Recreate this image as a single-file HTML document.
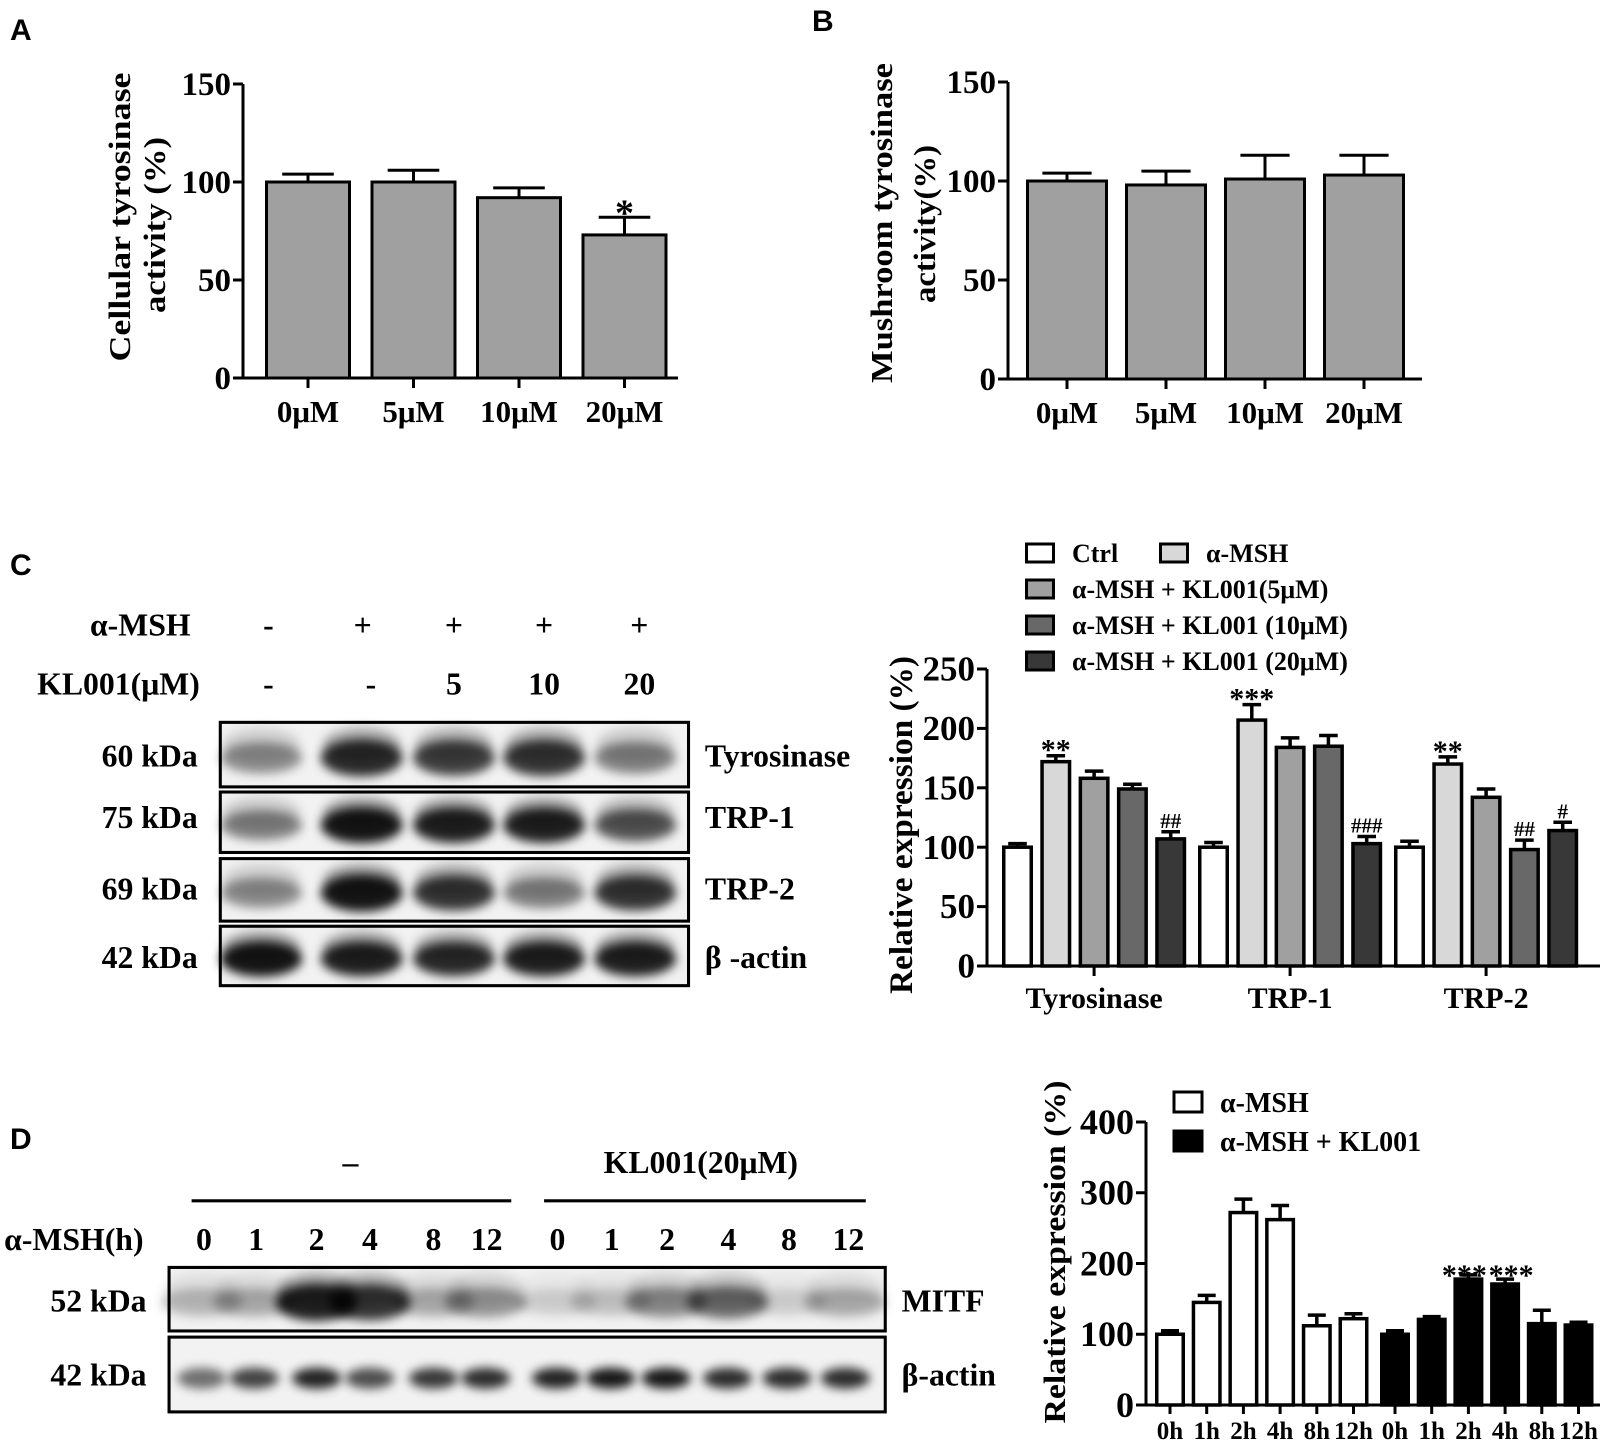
<!DOCTYPE html>
<html><head><meta charset="utf-8"><style>
body{margin:0;background:#fff}
svg{display:block}
text{font-family:"Liberation Serif",serif;font-weight:bold;fill:#000}
.pl{font-family:"Liberation Sans",sans-serif;font-size:30px}
</style></head><body>
<svg id="fig" width="1606" height="1446" viewBox="0 0 1606 1446">
<defs>
<filter id="blur" x="-50%" y="-100%" width="200%" height="300%"><feGaussianBlur stdDeviation="5"/></filter>
</defs>
<text class="pl" x="10" y="40">A</text>
<text class="pl" x="812" y="31">B</text>
<text class="pl" x="10" y="575">C</text>
<text class="pl" x="10" y="1149">D</text>
<g id="root"></g>
<g id="blots" transform="scale(1.0246)"></g>
</svg>
<script>
// Panel A data
const aCats=["0μM","5μM","10μM","20μM"];
const aVals=[100,100,92,73];
const aErr=[104,106,97,82];
const aTicks=[0,50,100,150];
// Panel B data
const bCats=["0μM","5μM","10μM","20μM"];
const bVals=[100,98,101,103];
const bErr=[104,105,113,113];
// Panel C data
const cGroups=["Tyrosinase","TRP-1","TRP-2"];
const cSeries=["Ctrl","α-MSH","α-MSH + KL001(5μM)","α-MSH + KL001 (10μM)","α-MSH + KL001 (20μM)"];
const cTyr=[100,172,158,149,107];
const cTyrErr=[103,177,164,153,113];
const cTrp1=[100,207,184,185,103];
const cTrp1Err=[104,220,192,194,109];
const cTrp2=[100,170,142,98,114];
const cTrp2Err=[105,176,149,106,121];
const cMarks=[["","**","","","##"],["","***","","","###"],["","**","","##","#"]];
const cTicks=[0,50,100,150,200,250];
// Panel D data
const dCats=["0h","1h","2h","4h","8h","12h"];
const dMsh=[100,145,272,262,112,122];
const dMshErr=[105,155,291,282,127,129];
const dKl=[100,121,178,171,115,113];
const dKlErr=[105,125,184,178,134,117];
const dMarks=["","","***","***","",""];
const dTicks=[0,100,200,300,400];
// Blot band intensities (0..1)
const blotTyr=[0.45,0.9,0.8,0.85,0.5];
const blotTrp1=[0.5,1,0.95,0.95,0.7];
const blotTrp2=[0.45,1,0.85,0.5,0.85];
const blotActC=[1,0.95,0.9,0.95,0.95];
const blotMitf=[0.25,0.3,0.95,0.85,0.3,0.4,0.15,0.2,0.45,0.6,0.15,0.3];
const blotActD=[0.6,0.8,0.95,0.75,0.85,0.9,0.95,1,1,0.9,0.9,0.9];

const NS="http://www.w3.org/2000/svg";
const root=document.getElementById('root');
const blots=document.getElementById('blots');
function el(tag,attrs,parent,txt){const e=document.createElementNS(NS,tag);for(const k in attrs)e.setAttribute(k,attrs[k]);if(txt!==undefined)e.textContent=txt;(parent||root).appendChild(e);return e;}
function grp(name,parent){const g=el('g',{},parent||root);


return g;}

function yAxis(g,x,y0,y1,ticks,max,fs,name){
  const sc=v=>y0-(v/max)*(y0-y1);
  const ax=el('line',{x1:x,y1:y0+1.5,x2:x,y2:y1,stroke:'#000','stroke-width':3},g);
  
  
  ticks.forEach(t=>{
    el('line',{x1:x-10,y1:sc(t),x2:x,y2:sc(t),stroke:'#000','stroke-width':3},g);
    const tx=el('text',{x:x-12,y:sc(t)+fs*0.33,'text-anchor':'end','font-size':fs},g,t);
    
    
  });
  return sc;
}
function bar(g,x,w,y0,yv,ye,fill,sw,name){
  el('line',{x1:x+w/2,y1:yv,x2:x+w/2,y2:ye,stroke:'#000','stroke-width':sw},g);
  el('line',{x1:x+w/2-w*0.3,y1:ye,x2:x+w/2+w*0.3,y2:ye,stroke:'#000','stroke-width':sw},g);
  const r=el('rect',{x:x+sw/2,y:yv,width:w-sw,height:y0-yv,fill:fill,stroke:'#000','stroke-width':sw},g);
  
  
}
function rotText(g,x,y,txt,fs,len,name){
  const t=el('text',{transform:`translate(${x},${y}) rotate(-90)`,'text-anchor':'middle','font-size':fs,textLength:len,lengthAdjust:'spacingAndGlyphs'},g,txt);
  
  
}

// Simple bar panels A & B
function simplePanel(name,axX,y0,y1,x0,pitch,w,xEnd,cats,vals,errs,l1,l2,stars){
  const g=grp(name);
  const sc=yAxis(g,axX,y0,y1,aTicks,150,33,'y-axis');
  el('line',{x1:axX,y1:y0,x2:xEnd,y2:y0,stroke:'#000','stroke-width':3},g);
  cats.forEach((c,i)=>{
    const x=x0+i*pitch;
    bar(g,x,w,y0,sc(vals[i]),sc(errs[i]),'#a0a0a0',3,'bar-'+c);
    el('line',{x1:x+w/2,y1:y0,x2:x+w/2,y2:y0+10,stroke:'#000','stroke-width':3},g);
    const t=el('text',{x:x+w/2,y:y0+44,'text-anchor':'middle','font-size':31},g,c);
    
    
    if(stars&&stars[i]){el('text',{x:x+w/2,y:sc(errs[i])+8,'text-anchor':'middle','font-size':38},g,stars[i]);}
  });
  rotText(g,l1[0],l1[1],l1[2],31,l1[3],'y-axis-title');
  rotText(g,l2[0],l2[1],l2[2],31,l2[3],'y-axis-title-line2');
}
simplePanel('chart-a',243,378,84,265,105.5,86,678,aCats,aVals,aErr,[130,217,'Cellular tyrosinase',289],[165,225,'activity (%)',176],["","","","*"]);
simplePanel('chart-b',1008,379,82,1026,99,82,1422,bCats,bVals,bErr,[892,223,'Mushroom tyrosinase',320],[935,224,'activity(%)',158],null);

// Panel C chart
(function(){
  const g=grp('chart-c');
  const y0=966,y1=669;
  const sc=yAxis(g,987,y0,y1,cTicks,250,35,'y-axis');
  el('line',{x1:987,y1:y0,x2:1600,y2:y0,stroke:'#000','stroke-width':3},g);
  const fills=['#ffffff','#d8d8d8','#a0a0a0','#686868','#383838'];
  const vals=[cTyr,cTrp1,cTrp2],errs=[cTyrErr,cTrp1Err,cTrp2Err];
  cGroups.forEach((gn,gi)=>{
    const gx=1002+gi*196;
    vals[gi].forEach((v,si)=>{
      const x=gx+si*38.3;
      bar(g,x,31,y0,sc(v),sc(errs[gi][si]),fills[si],3.5,'bar-'+gn+'-'+si);
      if(cMarks[gi][si]) el('text',{x:x+15.5,y:sc(errs[gi][si])-(cMarks[gi][si].includes('#')?4:-4),'text-anchor':'middle','font-size':cMarks[gi][si].includes('#')?21:30},g,cMarks[gi][si]);
    });
    const cx=gx+2*38.3+15.5;
    el('line',{x1:cx,y1:y0,x2:cx,y2:y0+10,stroke:'#000','stroke-width':3},g);
    const t=el('text',{x:cx,y:1008,'text-anchor':'middle','font-size':30},g,gn);
    
    
  });
  rotText(g,912,825,'Relative expression (%)',33,338,'y-axis-title');
  const pos=[[1025,553],[1159,553],[1025,589],[1025,625],[1025,661]];
  cSeries.forEach((s,i)=>{
    const lg=el('g',{},g);
    
    
    el('rect',{x:pos[i][0]+1.5,y:pos[i][1]-9,width:27,height:18,fill:fills[i],stroke:'#000','stroke-width':3},lg);
    el('text',{x:pos[i][0]+47,y:pos[i][1]+9,'font-size':26},lg,s);
  });
})();

// Panel D chart
(function(){
  const g=grp('chart-d');
  const y0=1405,y1=1122;
  const sc=yAxis(g,1146,y0,y1,dTicks,400,36,'y-axis');
  el('line',{x1:1146,y1:y0,x2:1600,y2:y0,stroke:'#000','stroke-width':3},g);
  const sets=[[dMsh,dMshErr,'#fff',1155],[dKl,dKlErr,'#000',1380]];
  sets.forEach((st,si)=>{
    dCats.forEach((c,i)=>{
      const x=st[3]+i*36.7;
      bar(g,x,30,y0,sc(st[0][i]),sc(st[1][i]),st[2],3.5,'bar-'+c);
      el('line',{x1:x+15,y1:y0,x2:x+15,y2:y0+9,stroke:'#000','stroke-width':3},g);
      const t=el('text',{x:x+15,y:1439,'text-anchor':'middle','font-size':25},g,c);
      
      
      if(si===1&&dMarks[i]) el('text',{x:x+15+(i===2?-4:6),y:sc(st[1][i])+(i===2?10:6),'text-anchor':'middle','font-size':30},g,dMarks[i]);
    });
  });
  rotText(g,1065,1252,'Relative expression (%)',31,343,'y-axis-title');
  [['α-MSH','#fff',1102],['α-MSH + KL001','#000',1141]].forEach(l=>{
    const lg=el('g',{},g);
    
    
    el('rect',{x:1174,y:l[2]-10,width:28,height:20,fill:l[1],stroke:'#000','stroke-width':3},lg);
    el('text',{x:1220,y:l[2]+10,'font-size':28},lg,l[0]);
  });
})();

// Blots (coordinates in 0.976-scaled space; group scaled up)
function blot(name,x,y,w,h,lanes,ints,label,kda,ly,thin){
  const g=grp(name,blots);
  el('rect',{x:x,y:y,width:w,height:h,fill:'#f2f2f2',stroke:'#000','stroke-width':3},g);
  lanes.forEach((lx,i)=>{
    const a=ints[i];
    el('ellipse',{cx:lx,cy:y+h*0.55,rx:thin?24:40,ry:thin?h*0.14:h*0.2+a*h*0.1,fill:'#000','fill-opacity':a*0.9,filter:'url(#blur)'},g);
    if(!thin) el('ellipse',{cx:lx,cy:y+h*0.35,rx:38,ry:h*0.28,fill:'#000','fill-opacity':a*0.3,filter:'url(#blur)'},g);
  });
  const t=el('text',{x:x+w+16,y:ly,'font-size':31},g,label);
  
  
  el('text',{x:x-22,y:ly,'text-anchor':'end','font-size':31},g,kda);
}
const cl=[255,353,443,531,620];
blot('blot-tyrosinase',215,705,457,63,cl,blotTyr,'Tyrosinase','60 kDa',748);
blot('blot-trp1',215,773,457,59,cl,blotTrp1,'TRP-1','75 kDa',808);
blot('blot-trp2',215,838,457,61,cl,blotTrp2,'TRP-2','69 kDa',878);
blot('blot-actin-c',215,904,457,58,cl,blotActC,'β -actin','42 kDa',945);
const dl=[197,248,309,361,423,474,543,596,650,710,768,825];
blot('blot-mitf',165,1237,699,62,dl,blotMitf,'MITF','52 kDa',1280);
blot('blot-actin-d',165,1305,699,73,dl,blotActD,'β-actin','42 kDa',1352,true);

// Blot headers
(function(){
  const g=grp('blot-c-header',blots);
  el('text',{x:186,y:620,'text-anchor':'end','font-size':31},g,'α-MSH');
  el('text',{x:195,y:678,'text-anchor':'end','font-size':31},g,'KL001(μM)');
  ['-','+','+','+','+'].forEach((s,i)=>el('text',{x:[262,354,443,531,624][i],y:620,'text-anchor':'middle','font-size':31},g,s));
  ['-','-','5','10','20'].forEach((s,i)=>el('text',{x:[262,362,443,531,624][i],y:678,'text-anchor':'middle','font-size':31},g,s));
  const h=grp('blot-d-header',blots);
  el('text',{x:342,y:1145,'text-anchor':'middle','font-size':31},h,'–');
  el('text',{x:684,y:1145,'text-anchor':'middle','font-size':31},h,'KL001(20μM)');
  el('line',{x1:187,y1:1172,x2:499,y2:1172,stroke:'#000','stroke-width':3},h);
  el('line',{x1:531,y1:1172,x2:845,y2:1172,stroke:'#000','stroke-width':3},h);
  el('text',{x:4,y:1220,'font-size':31},h,'α-MSH(h)');
  ['0','1','2','4','8','12','0','1','2','4','8','12'].forEach((s,i)=>el('text',{x:[199,250,309,361,423,475,544,597,651,711,770,828][i],y:1220,'text-anchor':'middle','font-size':31},h,s));
})();
</script>
</body></html>
